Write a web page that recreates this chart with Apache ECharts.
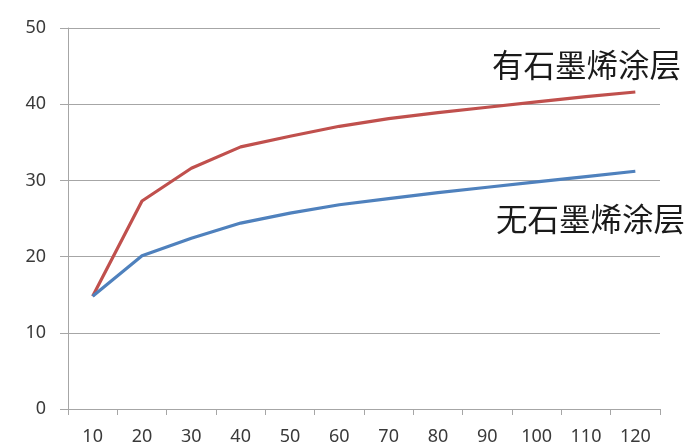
<!DOCTYPE html>
<html><head><meta charset="utf-8">
<script src="https://cdn.jsdelivr.net/npm/echarts@6/dist/echarts.min.js"></script>
<style>html,body{margin:0;padding:0;background:#fff}#c{width:694px;height:448px}</style>
</head><body><div id="c"></div>
<script>
const categories = ['10','20','30','40','50','60','70','80','90','100','110','120'];
const withGraphene = [14.8, 27.3, 31.6, 34.4, 35.8, 37.1, 38.1, 38.9, 39.6, 40.3, 41.0, 41.6];
const withoutGraphene = [14.8, 20.1, 22.4, 24.4, 25.7, 26.8, 27.6, 28.4, 29.1, 29.8, 30.5, 31.2];
const labelWith = '有石墨烯涂层';
const labelWithout = '无石墨烯涂层';

const chart = echarts.init(document.getElementById('c'));
chart.setOption({
  backgroundColor: '#fff',
  animation: false,
  grid: {left: 68, right: 34, top: 28, bottom: 39},
  xAxis: {
    type: 'category', data: categories, boundaryGap: true,
    axisLine: {lineStyle: {color: '#a6a6a6', width: 1}},
    axisTick: {show: true, length: 6, lineStyle: {color: '#a6a6a6'}},
    axisLabel: {margin: 19, fontSize: 18, color: '#3a3a3a', fontFamily: 'Noto Sans'}
  },
  yAxis: {
    type: 'value', min: 0, max: 50, interval: 10,
    axisLine: {show: true, lineStyle: {color: '#a6a6a6', width: 1}},
    axisTick: {show: true, length: 8, lineStyle: {color: '#a6a6a6'}},
    splitLine: {lineStyle: {color: '#a6a6a6', width: 1}},
    axisLabel: {margin: 22, fontSize: 18, color: '#3a3a3a', fontFamily: 'Noto Sans'}
  },
  series: [
    {type: 'line', data: withGraphene, symbol: 'none', lineStyle: {color: '#c0504d', width: 3.2}, itemStyle: {color: '#c0504d'}},
    {type: 'line', data: withoutGraphene, symbol: 'none', lineStyle: {color: '#4f81bd', width: 3.2}, itemStyle: {color: '#4f81bd'}}
  ],
  graphic: [
    {type: 'text', left: 492, top: 49, style: {text: labelWith, font: '31.5px "Noto Sans CJK SC"', fill: '#1a1a1a'}},
    {type: 'text', left: 496, top: 203, style: {text: labelWithout, font: '31.5px "Noto Sans CJK SC"', fill: '#1a1a1a'}}
  ]
});
</script></body></html>
